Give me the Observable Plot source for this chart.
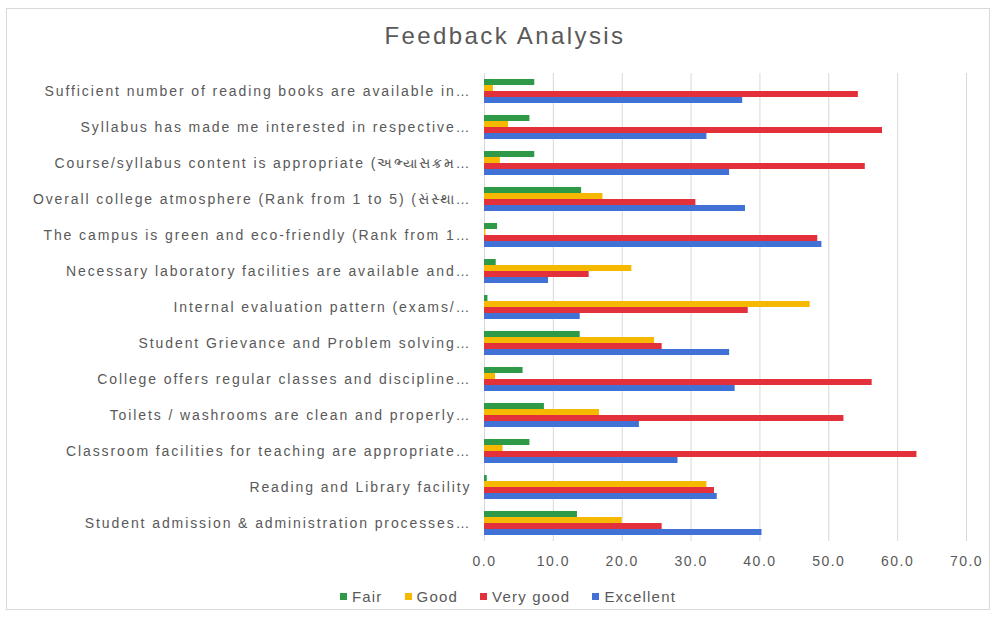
<!DOCTYPE html>
<html>
<head>
<meta charset="utf-8">
<script src="https://cdn.jsdelivr.net/npm/d3@7"></script>
<script src="https://cdn.jsdelivr.net/npm/@observablehq/plot@0.6"></script>
<style>
  body { margin: 0; width: 995px; height: 617px; background: #fff; position: relative; overflow: hidden; font-family: "Liberation Sans", Arial, sans-serif; }
  #frame { position: absolute; left: 6px; top: 8px; width: 984px; height: 602px; border: 1px solid #d9d9d9; box-sizing: border-box; }
  #title { position: absolute; top: 22px; left: 0; width: 1010px; text-align: center; font-size: 24px; letter-spacing: 2.4px; color: #595959; }
  #chart { position: absolute; top: 56px; left: 0; }
  #legend { position: absolute; top: 588px; left: 0; width: 1016px; text-align: center; font-size: 15px; letter-spacing: 1.2px; color: #595959; }
  #legend span.item { margin: 0 11px; }
  #legend span.sw { display: inline-block; width: 7px; height: 7px; margin-right: 5px; vertical-align: 2px; }
  #chart svg text { letter-spacing: 1.5px; }
  #chart svg g[aria-label='fy-axis tick label'] text { letter-spacing: 1.9px; }
</style>
</head>
<body>
<div id="frame"></div>
<div id="title">Feedback Analysis</div>
<div id="chart"></div>
<div id="legend"></div>
<script>
const categories = [
  "Sufficient number of reading books are available in…",
  "Syllabus has made me interested in respective…",
  "Course/syllabus content is appropriate (અભ્યાસક્રમ…",
  "Overall college atmosphere (Rank from 1 to 5) (સંસ્થા…",
  "The campus is green and eco-friendly (Rank from 1…",
  "Necessary laboratory facilities are available and…",
  "Internal evaluation pattern (exams/…",
  "Student Grievance and Problem solving…",
  "College offers regular classes and discipline…",
  "Toilets / washrooms are clean and properly…",
  "Classroom facilities for teaching are appropriate…",
  "Reading and Library facility",
  "Student admission & administration processes…"
];
const series = ["Fair", "Good", "Very good", "Excellent"];
const colors = ["#2e9a47", "#f7b900", "#e2313b", "#4271d6"];
const fair      = [7.3, 6.6, 7.3, 14.1, 1.9, 1.7, 0.5, 13.9, 5.6, 8.7, 6.6, 0.4, 13.5];
const good      = [1.3, 3.5, 2.3, 17.2, 0.2, 21.4, 47.3, 24.7, 1.6, 16.7, 2.7, 32.3, 20.0];
const veryGood  = [54.3, 57.8, 55.3, 30.7, 48.4, 15.2, 38.3, 25.8, 56.3, 52.2, 62.8, 33.4, 25.8];
const excellent = [37.5, 32.3, 35.6, 37.9, 49.0, 9.3, 13.9, 35.6, 36.4, 22.5, 28.1, 33.8, 40.3];
const xTicks = [0, 10, 20, 30, 40, 50, 60, 70];

const valuesBySeries = [fair, good, veryGood, excellent];
const data = [];
categories.forEach((c, i) => {
  series.forEach((s, j) => data.push({category: c, series: s, value: valuesBySeries[j][i]}));
});

const chart = Plot.plot({
  width: 995,
  height: 530,
  marginLeft: 484,
  marginRight: 29,
  marginTop: 16,
  marginBottom: 44,
  style: {fontFamily: "'Liberation Sans', Arial, sans-serif", fontSize: "14px", color: "#595959", background: "transparent"},
  x: {domain: [0, 70], ticks: xTicks, tickFormat: d => d.toFixed(1), grid: true, tickSize: 0, tickPadding: 15, label: null},
  fy: {domain: categories, padding: 0, tickSize: 0, tickPadding: 13, label: null, axis: "left"},
  y: {domain: series, axis: null, paddingInner: 0, paddingOuter: 0.86},
  color: {domain: series, range: colors},
  marks: [
    Plot.barX(data, {fy: "category", y: "series", x: "value", fill: "series"})
  ]
});
chart.querySelectorAll("[aria-label='x-grid'] line, g[aria-label='x-grid'] path").forEach(l => { l.setAttribute("stroke", "#d9d9d9"); l.setAttribute("stroke-opacity", "1"); });
document.getElementById("chart").appendChild(chart);

const legend = document.getElementById("legend");
series.forEach((s, i) => {
  const item = document.createElement("span");
  item.className = "item";
  item.innerHTML = `<span class="sw" style="background:${colors[i]}"></span>${s}`;
  legend.appendChild(item);
});
</script>
</body>
</html>
